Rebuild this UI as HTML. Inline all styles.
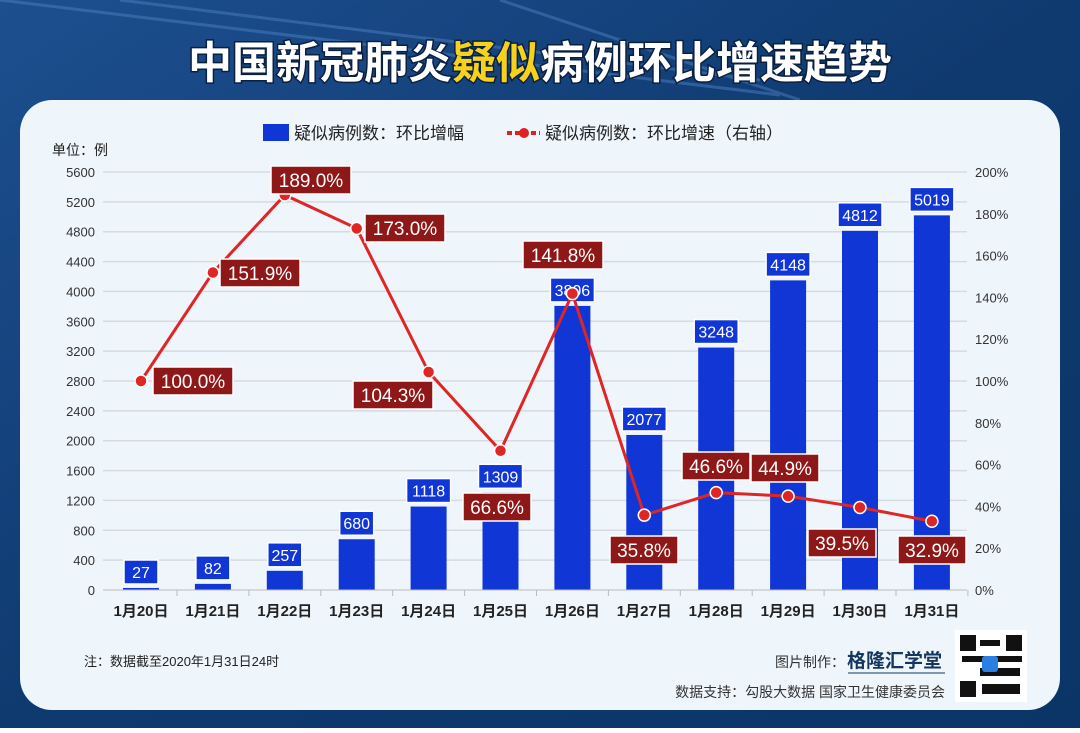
<!DOCTYPE html><html><head><meta charset="utf-8"><style>
body{margin:0;width:1080px;height:728px;overflow:hidden;font-family:"Liberation Sans","Noto Sans CJK SC",sans-serif}
</style></head><body>
<svg width="1080" height="728" xmlns="http://www.w3.org/2000/svg" font-family="Liberation Sans, Noto Sans CJK SC, sans-serif">
<defs><linearGradient id="bg" x1="0" y1="0" x2="1" y2="1"><stop offset="0" stop-color="#1d4f8f"/><stop offset="0.5" stop-color="#0f3a70"/><stop offset="1" stop-color="#0b3566"/></linearGradient></defs>
<rect width="1080" height="728" fill="url(#bg)"/>
<g stroke="#4c7fc0" stroke-width="3" opacity="0.5"><line x1="0" y1="0" x2="780" y2="95"/><line x1="120" y1="0" x2="760" y2="80"/><line x1="500" y1="0" x2="800" y2="100"/></g>
<text x="540" y="78" text-anchor="middle" font-size="44" font-weight="bold" fill="#fff" font-family="Noto Sans CJK SC, sans-serif" style="paint-order:stroke" stroke="#0a2040" stroke-width="3">中国新冠肺炎<tspan fill="#f6d21d">疑似</tspan>病例环比增速趋势</text>
<rect x="20" y="100" width="1040" height="610" rx="32" fill="#eef5fb"/>
<rect x="263" y="124" width="26" height="17" fill="#1136d6"/>
<text x="294" y="139" font-size="17" fill="#222">疑似病例数：环比增幅</text>
<line x1="507" y1="133" x2="540" y2="133" stroke="#e02020" stroke-width="4" stroke-dasharray="5,3"/><circle cx="524" cy="133" r="5" fill="#e02020"/>
<text x="545" y="139" font-size="17" fill="#222">疑似病例数：环比增速（右轴）</text>
<text x="52" y="155" font-size="14" fill="#222">单位：例</text>
<g font-size="13" fill="#333">
<g id="grid"></g>
</g>
<g id="main"></g>
<line x1="103" y1="590" x2="967" y2="590" stroke="#bbb"/>
<text x="84" y="666" font-size="13" fill="#222">注：数据截至2020年1月31日24时</text>
<text x="775" y="667" font-size="14" fill="#333">图片制作：</text>
<text x="847" y="667" font-size="19" font-weight="bold" fill="#14365f">格隆汇学堂</text>
<line x1="848" y1="673" x2="945" y2="673" stroke="#14365f"/>
<text x="945" y="697" font-size="14" fill="#333" text-anchor="end">数据支持：勾股大数据 国家卫生健康委员会</text>
<rect x="955" y="630" width="72" height="72" fill="#fff"/>
<g fill="#111"><rect x="960" y="635" width="16" height="16"/><rect x="1006" y="635" width="16" height="16"/><rect x="960" y="681" width="16" height="16"/><rect x="980" y="640" width="20" height="6"/><rect x="962" y="656" width="60" height="6"/><rect x="980" y="668" width="40" height="8"/><rect x="982" y="684" width="38" height="10"/></g>
<rect x="982" y="656" width="16" height="16" rx="3" fill="#2a7fe0"/>
</svg>
<script>
const ns="http://www.w3.org/2000/svg";
function el(p,t,a,txt){const e=document.createElementNS(ns,t);for(const k in a)e.setAttribute(k,a[k]);if(txt!=null)e.textContent=txt;p.appendChild(e);return e;}
const g=document.getElementById('grid'),m=document.getElementById('main');
for(let i=0;i<=14;i++){const y=590-i*418/14;
 if(i>0)el(g,'line',{x1:103,x2:967,y1:y,y2:y,stroke:'#d6dbe2','stroke-width':1.5});
 el(g,'text',{x:95,y:y+5,'text-anchor':'end'},String(i*400));}
for(let k=0;k<=10;k++){const y=590-k*41.8;el(g,'text',{x:975,y:y+5},(k*20)+'%');}
const vals=[27,82,257,680,1118,1309,3806,2077,3248,4148,4812,5019];
const pct=[100.0,151.9,189.0,173.0,104.3,66.6,141.8,35.8,46.6,44.9,39.5,32.9];
const pl=[[193,381],[260,273],[311,180],[405,228],[393,395],[497,507],[563,255],[644,550],[716,466],[785,468],[842,543],[932,550]];
const cx=i=>141+i*71.9;
vals.forEach((v,i)=>{const x=cx(i),top=590-v*418/5600;
 el(m,'rect',{x:x-18,y:top,width:36,height:590-top,fill:'#1136d6'});
 const ly=top-16;const w=v>=1000?44:34;
 el(m,'rect',{x:x-w/2,y:ly-12,width:w,height:24,fill:'#1136d6',stroke:'#fff','stroke-width':1.5});
 el(m,'text',{x:x,y:ly+6,'text-anchor':'middle','font-size':16,fill:'#fff'},String(v));
 el(m,'text',{x:x,y:616,'text-anchor':'middle','font-size':15,'font-weight':'bold',fill:'#222'},'1月'+(20+i)+'日');
 el(m,'line',{x1:x+36,x2:x+36,y1:590,y2:596,stroke:'#bbb'});
});
let pts=pct.map((p,i)=>cx(i)+','+(590-p*2.09)).join(' ');
el(m,'polyline',{points:pts,fill:'none',stroke:'#e02525','stroke-width':3});
pct.forEach((p,i)=>{el(m,'circle',{cx:cx(i),cy:590-p*2.09,r:6,fill:'#e02525',stroke:'#fff','stroke-width':1.5});
 const [x,y]=pl[i];const w=p>=100?80:68;
 el(m,'rect',{x:x-w/2,y:y-14,width:w,height:28,fill:'#8e1717',stroke:'#fff','stroke-width':1.5});
 el(m,'text',{x:x,y:y+7,'text-anchor':'middle','font-size':19,fill:'#fff'},p.toFixed(1)+'%');});
</script>
</body></html>
